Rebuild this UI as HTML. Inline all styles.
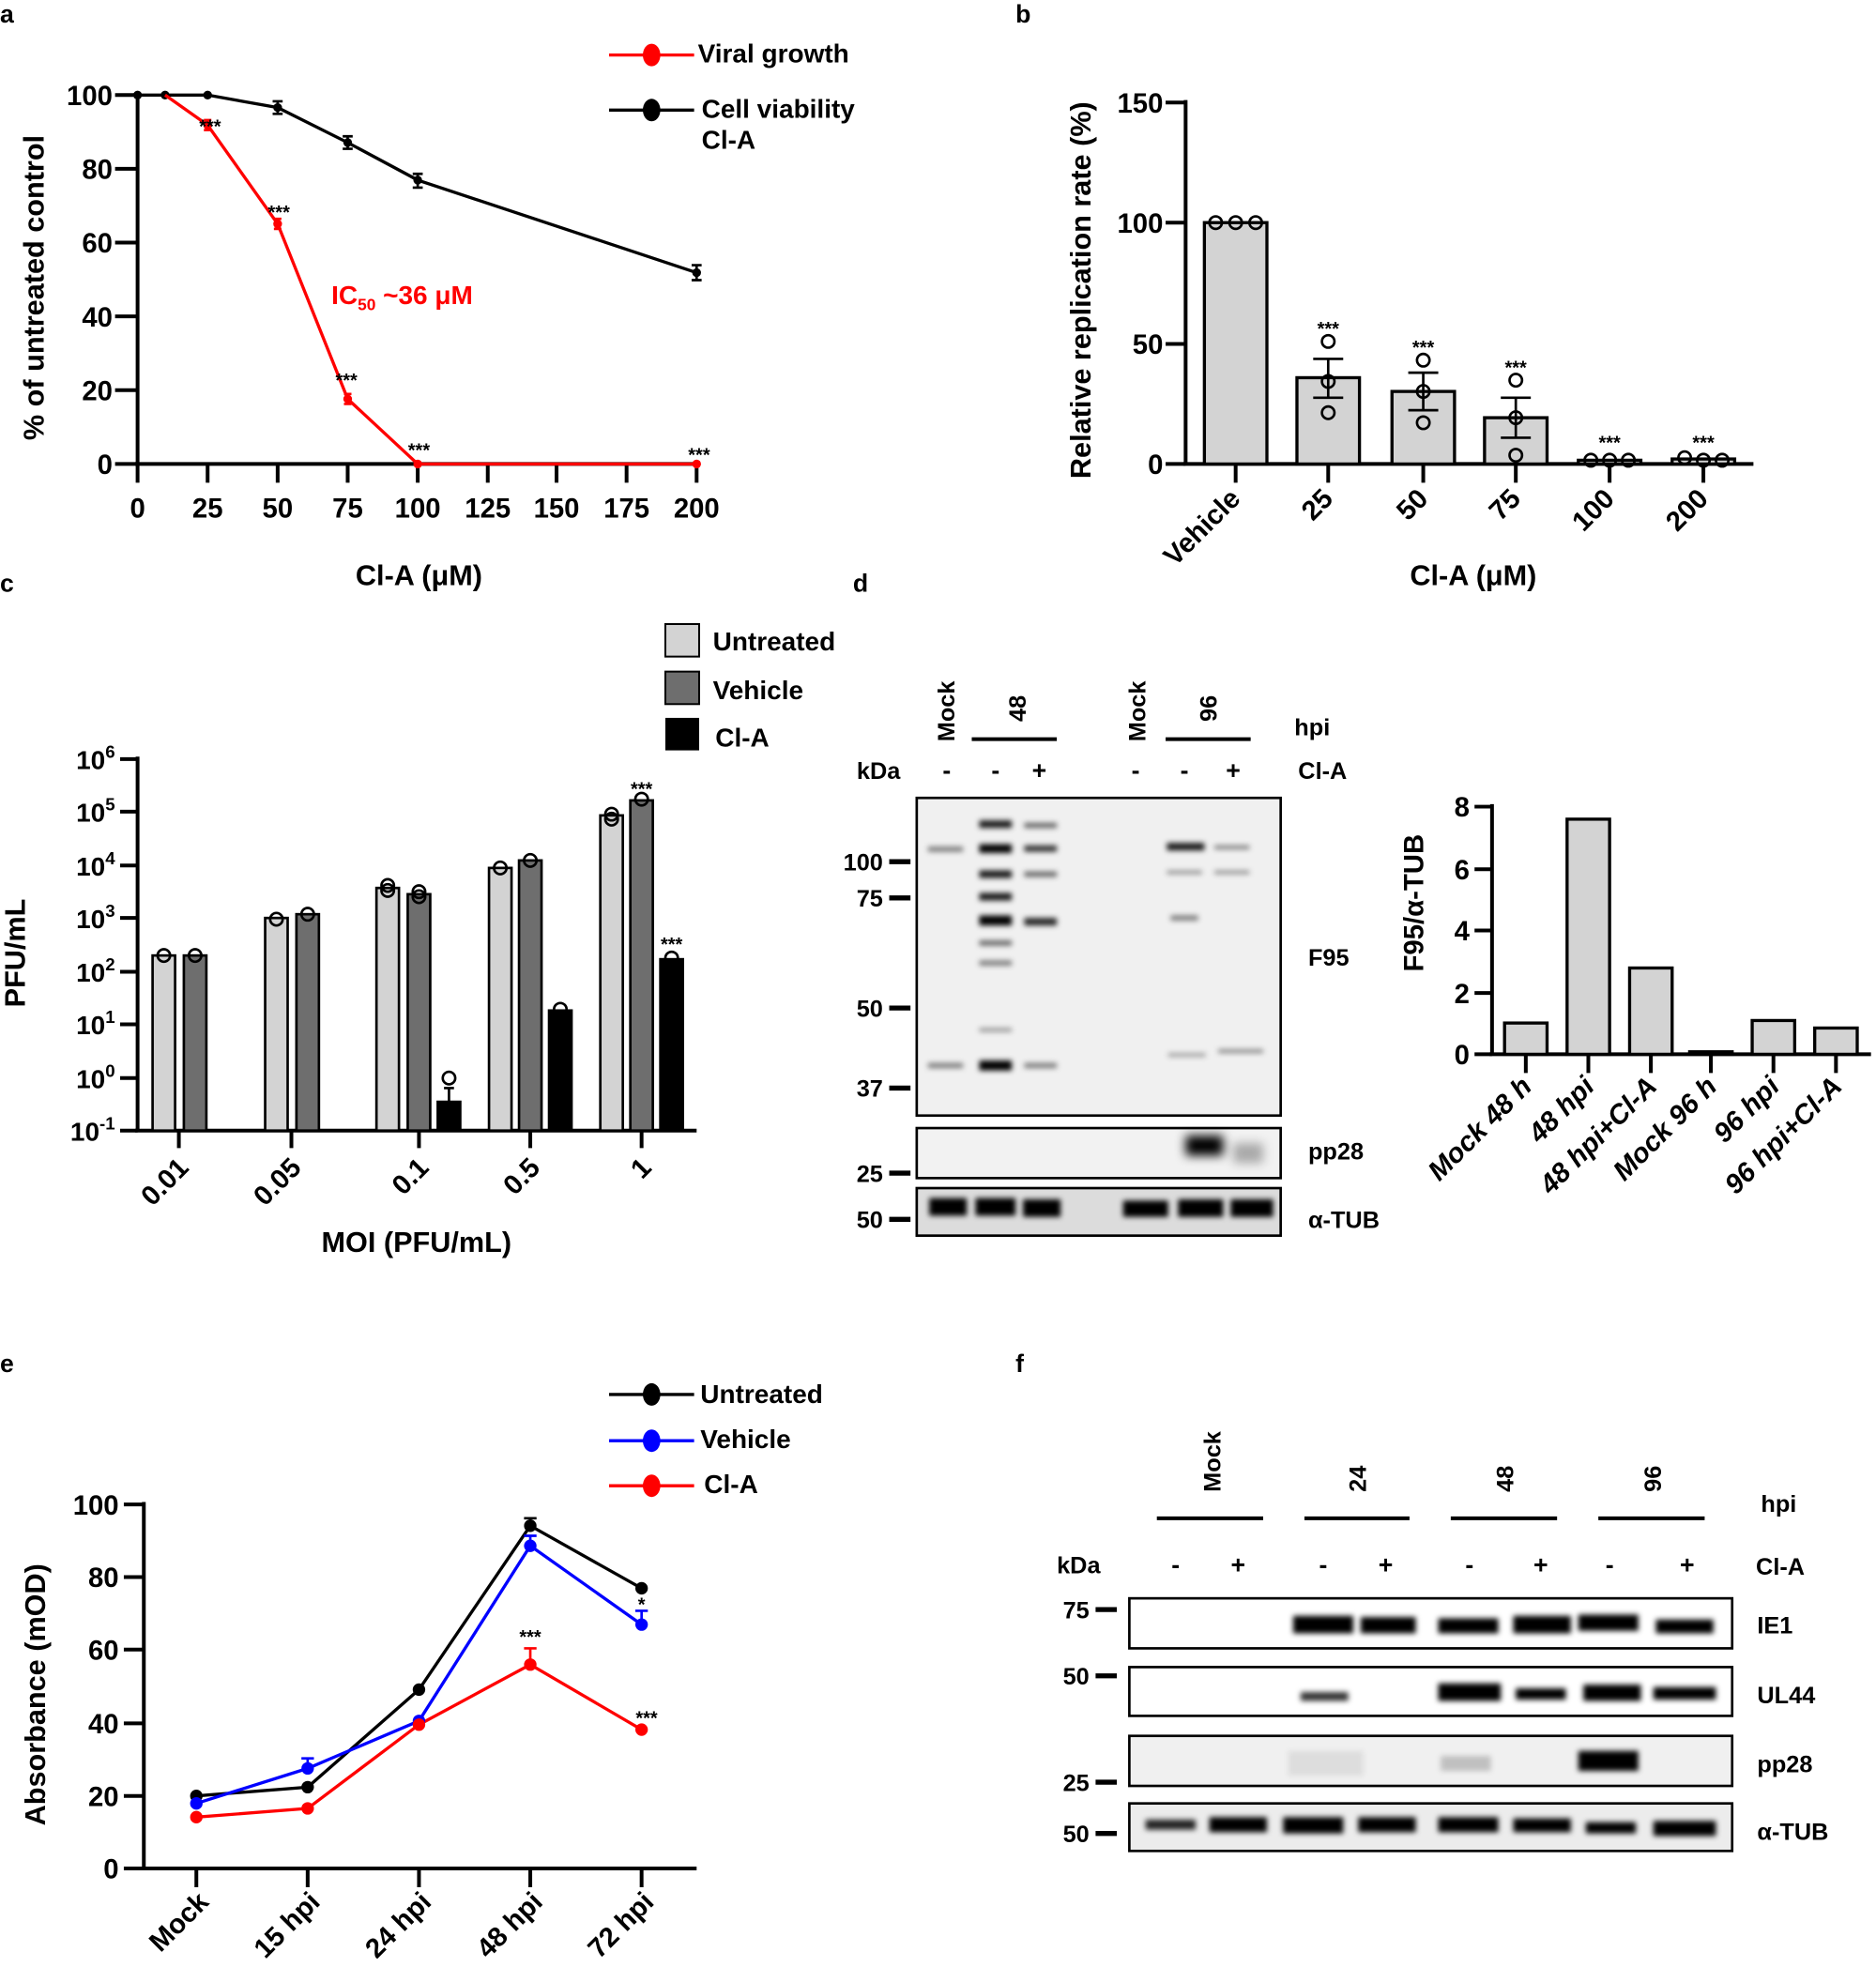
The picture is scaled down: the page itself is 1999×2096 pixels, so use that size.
<!DOCTYPE html>
<html><head><meta charset="utf-8"><style>
html,body{margin:0;padding:0;background:#fff}
svg{display:block}
text{font-family:"Liberation Sans",Arial,sans-serif;font-weight:bold;fill:#000}
</style></head><body>
<svg width="1999" height="2096" viewBox="0 0 1500 1572.8" xmlns="http://www.w3.org/2000/svg">
<defs>
<filter id="bl" x="-50%" y="-100%" width="200%" height="300%"><feGaussianBlur stdDeviation="2.2"/></filter>
<filter id="bl2" x="-50%" y="-100%" width="200%" height="300%"><feGaussianBlur stdDeviation="4"/></filter>
</defs>
<g font-size="20">
<text x="0" y="18">a</text><text x="812" y="18">b</text>
<text x="0" y="473">c</text><text x="682" y="473">d</text>
<text x="0" y="1097">e</text><text x="812" y="1097">f</text>
</g>

<!-- Panel a -->
<g stroke="#000" stroke-width="3" fill="none">
<line x1="110" y1="74" x2="110" y2="372"/>
<line x1="108" y1="371" x2="559" y2="371"/>
<path d="M92 76H110M92 135H110M92 194H110M92 253H110M92 312H110M92 371H110"/>
<path d="M110 371V386M166 371V386M222 371V386M278 371V386M334 371V386M390 371V386M445 371V386M501 371V386M557 371V386"/>
</g>
<g font-size="22" text-anchor="end">
<text x="90" y="84">100</text><text x="90" y="143">80</text><text x="90" y="202">60</text><text x="90" y="261">40</text><text x="90" y="320">20</text><text x="90" y="379">0</text>
</g>
<g font-size="22" text-anchor="middle">
<text x="110" y="414">0</text><text x="166" y="414">25</text><text x="222" y="414">50</text><text x="278" y="414">75</text><text x="334" y="414">100</text><text x="390" y="414">125</text><text x="445" y="414">150</text><text x="501" y="414">175</text><text x="557" y="414">200</text>
</g>
<text x="335" y="468" font-size="23" text-anchor="middle">Cl-A (μM)</text>
<text transform="translate(35,230) rotate(-90)" font-size="23" text-anchor="middle">% of untreated control</text>
<polyline points="110,76 132,76 166,76 222,86 278,114 334,144 557,218" fill="none" stroke="#000" stroke-width="2.5"/>
<g fill="#000"><circle cx="110" cy="76" r="3.5"/><circle cx="132" cy="76" r="3.5"/><circle cx="166" cy="76" r="3.5"/><circle cx="222" cy="86" r="3.5"/><circle cx="278" cy="114" r="3.5"/><circle cx="334" cy="144" r="3.5"/><circle cx="557" cy="218" r="3.5"/></g>
<g stroke="#000" stroke-width="2"><path d="M222 81V91M218 81H226M218 91H226M278 109V119M274 109H282M274 119H282M334 139V150M330 139H338M330 150H338M557 212V224M553 212H561M553 224H561"/></g>
<polyline points="132,76 166,100 222,179 278,319 334,371 557,371" fill="none" stroke="#f00" stroke-width="2.5"/>
<g fill="#f00"><circle cx="166" cy="100" r="3.5"/><circle cx="222" cy="179" r="3.5"/><circle cx="278" cy="319" r="3.5"/><circle cx="334" cy="371" r="3.5"/><circle cx="557" cy="371" r="3.5"/></g>
<g stroke="#f00" stroke-width="2"><path d="M166 96V104M163 96H169M163 104H169M222 175V183M219 175H225M219 183H225M278 315V323M275 315H281M275 323H281"/></g>
<g font-size="15" text-anchor="middle"><text x="168" y="106">***</text><text x="223" y="175">***</text><text x="277" y="309">***</text><text x="335" y="365">***</text><text x="559" y="369">***</text></g>
<text x="265" y="243" font-size="21" fill="#f00" style="fill:#f00">IC<tspan font-size="13" dy="5">50</tspan><tspan dy="-5"> ~36 μM</tspan></text>
<line x1="487" y1="44" x2="555" y2="44" stroke="#f00" stroke-width="2.5"/><ellipse cx="521" cy="44" rx="7" ry="9" fill="#f00"/>
<text x="558" y="50" font-size="21">Viral growth</text>
<line x1="487" y1="88" x2="555" y2="88" stroke="#000" stroke-width="2.5"/><ellipse cx="521" cy="88" rx="7" ry="9" fill="#000"/>
<text x="561" y="94" font-size="21">Cell viability</text><text x="561" y="119" font-size="21">Cl-A</text>

<!-- Panel b -->
<g stroke="#000" stroke-width="3" fill="none">
<line x1="948" y1="80" x2="948" y2="372"/><line x1="946" y1="371" x2="1402" y2="371"/>
<path d="M932 82H948M932 178H948M932 275H948M932 371H948"/>
<path d="M988 371V386M1062 371V386M1138 371V386M1212 371V386M1287 371V386M1362 371V386"/>
</g>
<g fill="#d3d3d3" stroke="#000" stroke-width="2.5">
<rect x="963" y="178" width="50" height="193"/><rect x="1037" y="302" width="50" height="69"/><rect x="1113" y="313" width="50" height="58"/><rect x="1187" y="334" width="50" height="37"/><rect x="1262" y="368" width="50" height="3"/><rect x="1337" y="367" width="50" height="4"/>
</g>
<g stroke="#000" stroke-width="2" fill="none">
<path d="M1062 287V318M1050 287H1074M1050 318H1074M1138 298V328M1126 298H1150M1126 328H1150M1212 318V350M1200 318H1224M1200 350H1224"/>
<circle cx="972" cy="178" r="5"/><circle cx="988" cy="178" r="5"/><circle cx="1004" cy="178" r="5"/>
<circle cx="1062" cy="273" r="5"/><circle cx="1062" cy="305" r="5"/><circle cx="1062" cy="330" r="5"/>
<circle cx="1138" cy="288" r="5"/><circle cx="1138" cy="313" r="5"/><circle cx="1138" cy="338" r="5"/>
<circle cx="1212" cy="304" r="5"/><circle cx="1212" cy="334" r="5"/><circle cx="1212" cy="364" r="5"/>
<circle cx="1272" cy="368" r="5"/><circle cx="1287" cy="368" r="5"/><circle cx="1302" cy="368" r="5"/>
<circle cx="1347" cy="366" r="5"/><circle cx="1362" cy="368" r="5"/><circle cx="1377" cy="368" r="5"/>
</g>
<g font-size="15" text-anchor="middle"><text x="1062" y="268">***</text><text x="1138" y="283">***</text><text x="1212" y="299">***</text><text x="1287" y="359">***</text><text x="1362" y="359">***</text></g>
<g font-size="22" text-anchor="end"><text x="930" y="90">150</text><text x="930" y="186">100</text><text x="930" y="283">50</text><text x="930" y="379">0</text></g>
<g font-size="22" text-anchor="end">
<text transform="translate(993,400) rotate(-45)">Vehicle</text>
<text transform="translate(1067,400) rotate(-45)">25</text>
<text transform="translate(1143,400) rotate(-45)">50</text>
<text transform="translate(1217,400) rotate(-45)">75</text>
<text transform="translate(1292,400) rotate(-45)">100</text>
<text transform="translate(1367,400) rotate(-45)">200</text>
</g>
<text x="1178" y="468" font-size="23" text-anchor="middle">Cl-A (μM)</text>
<text transform="translate(872,232) rotate(-90)" font-size="23" text-anchor="middle">Relative replication rate (%)</text>

<!-- Panel c -->
<g stroke="#000" stroke-width="3" fill="none">
<line x1="110" y1="605" x2="110" y2="905"/><line x1="108" y1="904" x2="557" y2="904"/>
<path d="M96 607H110M96 649H110M96 692H110M96 734H110M96 777H110M96 819H110M96 862H110M96 904H110"/>
<path d="M143 904V918M233 904V918M335 904V918M424 904V918M513 904V918"/>
</g>
<g font-size="21" text-anchor="end">
<text x="92" y="615">10<tspan font-size="14" dy="-9">6</tspan></text>
<text x="92" y="657">10<tspan font-size="14" dy="-9">5</tspan></text>
<text x="92" y="700">10<tspan font-size="14" dy="-9">4</tspan></text>
<text x="92" y="742">10<tspan font-size="14" dy="-9">3</tspan></text>
<text x="92" y="785">10<tspan font-size="14" dy="-9">2</tspan></text>
<text x="92" y="827">10<tspan font-size="14" dy="-9">1</tspan></text>
<text x="92" y="870">10<tspan font-size="14" dy="-9">0</tspan></text>
<text x="92" y="912">10<tspan font-size="14" dy="-9">-1</tspan></text>
</g>
<g stroke="#000" stroke-width="2">
<rect x="122" y="764" width="18" height="140" fill="#d3d3d3"/><rect x="147" y="764" width="18" height="140" fill="#6e6e6e"/>
<rect x="212" y="734" width="18" height="170" fill="#d3d3d3"/><rect x="237" y="731" width="18" height="173" fill="#6e6e6e"/>
<rect x="301" y="710" width="18" height="194" fill="#d3d3d3"/><rect x="326" y="715" width="18" height="189" fill="#6e6e6e"/><rect x="350" y="881" width="18" height="23" fill="#000"/>
<rect x="391" y="694" width="18" height="210" fill="#d3d3d3"/><rect x="415" y="688" width="18" height="216" fill="#6e6e6e"/><rect x="439" y="808" width="18" height="96" fill="#000"/>
<rect x="480" y="652" width="18" height="252" fill="#d3d3d3"/><rect x="504" y="640" width="18" height="264" fill="#6e6e6e"/><rect x="528" y="767" width="18" height="137" fill="#000"/>
</g>
<g stroke="#000" stroke-width="2" fill="none">
<path d="M359 881V870M355 870H363"/>
<circle cx="131" cy="764" r="5"/><circle cx="156" cy="764" r="5"/><circle cx="221" cy="735" r="5"/><circle cx="246" cy="731" r="5"/>
<circle cx="310" cy="708" r="5"/><circle cx="310" cy="712" r="5"/><circle cx="335" cy="713" r="5"/><circle cx="335" cy="717" r="5"/><circle cx="359" cy="862" r="5"/>
<circle cx="400" cy="694" r="5"/><circle cx="424" cy="688" r="5"/><circle cx="448" cy="807" r="5"/>
<circle cx="489" cy="651" r="5"/><circle cx="489" cy="655" r="5"/><circle cx="513" cy="639" r="5"/><circle cx="537" cy="766" r="5"/>
</g>
<g font-size="15" text-anchor="middle"><text x="513" y="636">***</text><text x="537" y="760">***</text></g>
<g font-size="22" text-anchor="end">
<text transform="translate(152,935) rotate(-45)">0.01</text>
<text transform="translate(242,935) rotate(-45)">0.05</text>
<text transform="translate(344,935) rotate(-45)">0.1</text>
<text transform="translate(433,935) rotate(-45)">0.5</text>
<text transform="translate(522,935) rotate(-45)">1</text>
</g>
<text x="333" y="1001" font-size="23" text-anchor="middle">MOI (PFU/mL)</text>
<text transform="translate(20,762) rotate(-90)" font-size="23" text-anchor="middle">PFU/mL</text>
<rect x="532" y="499" width="27" height="26" fill="#d3d3d3" stroke="#000" stroke-width="1.5"/>
<rect x="532" y="537" width="27" height="26" fill="#6e6e6e" stroke="#000" stroke-width="1.5"/>
<rect x="532" y="574" width="27" height="26" fill="#000"/>
<g font-size="21"><text x="570" y="520">Untreated</text><text x="570" y="559">Vehicle</text><text x="572" y="597">Cl-A</text></g>

<!-- Panel d blot -->
<g font-size="19">
<text transform="translate(763,593) rotate(-90)">Mock</text>
<text transform="translate(820,577) rotate(-90)">48</text>
<text transform="translate(916,593) rotate(-90)">Mock</text>
<text transform="translate(973,577) rotate(-90)">96</text>
<text x="1035" y="588">hpi</text>
<text x="685" y="623">kDa</text>
<text x="1038" y="623">Cl-A</text>
</g>
<g font-size="20" text-anchor="middle"><text x="757" y="623">-</text><text x="796" y="623">-</text><text x="831" y="623">+</text><text x="908" y="623">-</text><text x="947" y="623">-</text><text x="986" y="623">+</text></g>
<g stroke="#000" stroke-width="3"><line x1="777" y1="591" x2="845" y2="591"/><line x1="932" y1="591" x2="1000" y2="591"/></g>
<rect x="733" y="638" width="291" height="254" fill="#f0f0f0" stroke="#000" stroke-width="2"/>
<rect x="733" y="902" width="291" height="40" fill="#f2f2f2" stroke="#000" stroke-width="2"/>
<rect x="733" y="950" width="291" height="38" fill="#dcdcdc" stroke="#000" stroke-width="2"/>
<g filter="url(#bl)" fill="#000">
<rect x="783" y="656" width="26" height="6" opacity=".9"/><rect x="783" y="675" width="26" height="7"/><rect x="783" y="696" width="26" height="6" opacity=".9"/><rect x="783" y="714" width="26" height="6" opacity=".9"/><rect x="783" y="732" width="26" height="8"/><rect x="783" y="752" width="26" height="4" opacity=".6"/><rect x="783" y="768" width="26" height="4" opacity=".5"/><rect x="783" y="822" width="26" height="3" opacity=".4"/><rect x="783" y="848" width="26" height="8"/>
<rect x="819" y="658" width="26" height="4" opacity=".6"/><rect x="819" y="676" width="26" height="5" opacity=".8"/><rect x="819" y="697" width="26" height="4" opacity=".6"/><rect x="819" y="734" width="26" height="6" opacity=".85"/><rect x="819" y="850" width="26" height="4" opacity=".5"/>
<rect x="742" y="677" width="28" height="4" opacity=".5"/><rect x="742" y="850" width="28" height="4" opacity=".5"/>
<rect x="933" y="674" width="30" height="6" opacity=".9"/><rect x="971" y="676" width="28" height="3" opacity=".5"/><rect x="933" y="696" width="28" height="3" opacity=".4"/><rect x="971" y="696" width="28" height="3" opacity=".4"/><rect x="936" y="732" width="22" height="4" opacity=".5"/>
<rect x="934" y="842" width="30" height="3" opacity=".35"/><rect x="974" y="839" width="36" height="3" opacity=".45"/>
<rect x="743" y="958" width="30" height="14"/><rect x="780" y="958" width="32" height="14"/><rect x="818" y="959" width="30" height="14"/><rect x="898" y="960" width="36" height="13"/><rect x="942" y="959" width="36" height="14"/><rect x="984" y="959" width="34" height="14"/>
</g>
<g filter="url(#bl2)" fill="#000"><rect x="948" y="908" width="30" height="16"/><rect x="986" y="914" width="24" height="16" opacity=".3"/></g>
<g stroke="#000" stroke-width="4"><path d="M711 689H728M711 718H728M711 806H728M711 870H728M711 938H728M711 975H728"/></g>
<g font-size="19" text-anchor="end"><text x="706" y="696">100</text><text x="706" y="725">75</text><text x="706" y="813">50</text><text x="706" y="877">37</text><text x="706" y="945">25</text><text x="706" y="982">50</text></g>
<g font-size="19"><text x="1046" y="772">F95</text><text x="1046" y="927">pp28</text><text x="1046" y="982">α-TUB</text></g>

<!-- Panel d bar -->
<g stroke="#000" stroke-width="3" fill="none">
<line x1="1193" y1="643" x2="1193" y2="844"/><line x1="1191" y1="843" x2="1496" y2="843"/>
<path d="M1179 645H1193M1179 695H1193M1179 744H1193M1179 794H1193M1179 843H1193"/>
<path d="M1220 843V858M1270 843V858M1320 843V858M1368 843V858M1418 843V858M1468 843V858"/>
</g>
<g fill="#d3d3d3" stroke="#000" stroke-width="2.5">
<rect x="1203" y="818" width="34" height="25"/><rect x="1253" y="655" width="34" height="188"/><rect x="1303" y="774" width="34" height="69"/><rect x="1351" y="841" width="34" height="2"/><rect x="1401" y="816" width="34" height="27"/><rect x="1451" y="822" width="34" height="21"/>
</g>
<g font-size="22" text-anchor="end"><text x="1175" y="653">8</text><text x="1175" y="703">6</text><text x="1175" y="752">4</text><text x="1175" y="802">2</text><text x="1175" y="851">0</text></g>
<text transform="translate(1138,722) rotate(-90)" font-size="22" text-anchor="middle">F95/α-TUB</text>
<g font-size="22" text-anchor="end" font-style="italic">
<text transform="translate(1226,870) rotate(-45)">Mock 48 h</text>
<text transform="translate(1276,870) rotate(-45)">48 hpi</text>
<text transform="translate(1326,870) rotate(-45)">48 hpi+Cl-A</text>
<text transform="translate(1374,870) rotate(-45)">Mock 96 h</text>
<text transform="translate(1424,870) rotate(-45)">96 hpi</text>
<text transform="translate(1474,870) rotate(-45)">96 hpi+Cl-A</text>
</g>

<!-- Panel e -->
<g stroke="#000" stroke-width="3" fill="none">
<line x1="115" y1="1201" x2="115" y2="1495"/><line x1="113" y1="1494" x2="557" y2="1494"/>
<path d="M99 1203H115M99 1261H115M99 1319H115M99 1378H115M99 1436H115M99 1494H115"/>
<path d="M157 1494V1509M246 1494V1509M335 1494V1509M424 1494V1509M513 1494V1509"/>
</g>
<g font-size="22" text-anchor="end"><text x="95" y="1211">100</text><text x="95" y="1269">80</text><text x="95" y="1327">60</text><text x="95" y="1386">40</text><text x="95" y="1444">20</text><text x="95" y="1502">0</text></g>
<polyline points="157,1436 246,1429 335,1351 424,1220 513,1270" fill="none" stroke="#000" stroke-width="2.5"/>
<polyline points="157,1442 246,1414 335,1376 424,1236 513,1299" fill="none" stroke="#00f" stroke-width="2.5"/>
<polyline points="157,1453 246,1446 335,1379 424,1331 513,1383" fill="none" stroke="#f00" stroke-width="2.5"/>
<g stroke-width="2" fill="none">
<path d="M424 1220V1214M419 1214H429" stroke="#000"/>
<path d="M246 1414V1406M241 1406H251M424 1236V1228M419 1228H429M513 1299V1288M508 1288H518" stroke="#00f"/>
<path d="M424 1331V1318M419 1318H429" stroke="#f00"/>
</g>
<g fill="#000"><circle cx="157" cy="1436" r="5"/><circle cx="246" cy="1429" r="5"/><circle cx="335" cy="1351" r="5"/><circle cx="424" cy="1220" r="5"/><circle cx="513" cy="1270" r="5"/></g>
<g fill="#00f"><circle cx="157" cy="1442" r="5"/><circle cx="246" cy="1414" r="5"/><circle cx="335" cy="1376" r="5"/><circle cx="424" cy="1236" r="5"/><circle cx="513" cy="1299" r="5"/></g>
<g fill="#f00"><circle cx="157" cy="1453" r="5"/><circle cx="246" cy="1446" r="5"/><circle cx="335" cy="1379" r="5"/><circle cx="424" cy="1331" r="5"/><circle cx="513" cy="1383" r="5"/></g>
<g font-size="15" text-anchor="middle"><text x="424" y="1314">***</text><text x="513" y="1288">*</text><text x="517" y="1379">***</text></g>
<g font-size="22" text-anchor="end">
<text transform="translate(168,1522) rotate(-45)">Mock</text>
<text transform="translate(257,1522) rotate(-45)">15 hpi</text>
<text transform="translate(346,1522) rotate(-45)">24 hpi</text>
<text transform="translate(435,1522) rotate(-45)">48 hpi</text>
<text transform="translate(524,1522) rotate(-45)">72 hpi</text>
</g>
<text transform="translate(36,1355) rotate(-90)" font-size="23" text-anchor="middle">Absorbance (mOD)</text>
<line x1="487" y1="1115" x2="555" y2="1115" stroke="#000" stroke-width="2.5"/><ellipse cx="521" cy="1115" rx="7" ry="9" fill="#000"/>
<line x1="487" y1="1152" x2="555" y2="1152" stroke="#00f" stroke-width="2.5"/><ellipse cx="521" cy="1152" rx="7" ry="9" fill="#00f"/>
<line x1="487" y1="1188" x2="555" y2="1188" stroke="#f00" stroke-width="2.5"/><ellipse cx="521" cy="1188" rx="7" ry="9" fill="#f00"/>
<g font-size="21"><text x="560" y="1122">Untreated</text><text x="560" y="1158">Vehicle</text><text x="563" y="1194">Cl-A</text></g>

<!-- Panel f -->
<g font-size="19">
<text transform="translate(976,1193) rotate(-90)">Mock</text>
<text transform="translate(1092,1193) rotate(-90)">24</text>
<text transform="translate(1210,1193) rotate(-90)">48</text>
<text transform="translate(1328,1193) rotate(-90)">96</text>
<text x="1408" y="1209">hpi</text>
<text x="845" y="1258">kDa</text>
<text x="1404" y="1259">Cl-A</text>
</g>
<g stroke="#000" stroke-width="3"><path d="M925 1214H1010M1043 1214H1127M1160 1214H1245M1278 1214H1363"/></g>
<g font-size="20" text-anchor="middle"><text x="940" y="1258">-</text><text x="990" y="1258">+</text><text x="1058" y="1258">-</text><text x="1108" y="1258">+</text><text x="1175" y="1258">-</text><text x="1232" y="1258">+</text><text x="1287" y="1258">-</text><text x="1349" y="1258">+</text></g>
<g fill="#fff" stroke="#000" stroke-width="2">
<rect x="903" y="1278" width="482" height="40"/><rect x="903" y="1333" width="482" height="39"/><rect x="903" y="1388" width="482" height="40" fill="#f0f0f0"/><rect x="903" y="1442" width="482" height="38" fill="#ececec"/>
</g>
<g filter="url(#bl)" fill="#000">
<rect x="1034" y="1292" width="48" height="14"/><rect x="1088" y="1293" width="44" height="13"/><rect x="1150" y="1294" width="48" height="12"/><rect x="1210" y="1292" width="46" height="14"/><rect x="1262" y="1291" width="48" height="13"/><rect x="1324" y="1295" width="46" height="11"/>
<rect x="1040" y="1353" width="38" height="7" opacity=".8"/><rect x="1150" y="1346" width="50" height="14"/><rect x="1212" y="1350" width="40" height="9"/><rect x="1266" y="1347" width="46" height="13"/><rect x="1322" y="1349" width="50" height="10"/>
<rect x="1262" y="1400" width="48" height="16"/><rect x="1030" y="1400" width="60" height="20" opacity=".08"/><rect x="1152" y="1404" width="40" height="12" opacity=".2"/>
<rect x="916" y="1455" width="40" height="8" opacity=".85"/><rect x="967" y="1453" width="46" height="12"/><rect x="1026" y="1453" width="48" height="13"/><rect x="1086" y="1453" width="46" height="12"/><rect x="1150" y="1453" width="48" height="12"/><rect x="1210" y="1454" width="46" height="11"/><rect x="1268" y="1457" width="40" height="9"/><rect x="1322" y="1456" width="50" height="12"/>
</g>
<g stroke="#000" stroke-width="4"><path d="M876 1287H893M876 1340H893M876 1425H893M876 1466H893"/></g>
<g font-size="19" text-anchor="end"><text x="871" y="1294">75</text><text x="871" y="1347">50</text><text x="871" y="1432">25</text><text x="871" y="1473">50</text></g>
<g font-size="19"><text x="1405" y="1306">IE1</text><text x="1405" y="1362">UL44</text><text x="1405" y="1417">pp28</text><text x="1405" y="1471">α-TUB</text></g>
</svg>
</body></html>
